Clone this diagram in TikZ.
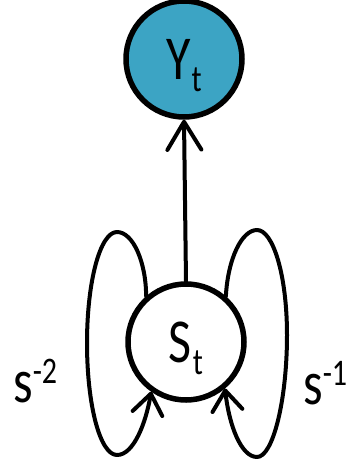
\documentclass[tikz,border=0pt]{standalone}
\usepackage{fontspec}
\setmainfont{Carlito}
\usetikzlibrary{arrows.meta}
\definecolor{ynode}{RGB}{60,164,196}
\newcommand{\bigtxt}[2]{\scalebox{1}[1.25]{\fontsize{50}{60}\selectfont #1\hspace{1pt}\raisebox{-9.6pt}[0pt][0pt]{\fontsize{30}{36}\selectfont #2}}}
\newcommand{\suptxt}[2]{\scalebox{1}[1.25]{\fontsize{50}{60}\selectfont #1\raisebox{15pt}{\fontsize{30}{36}\selectfont #2}}}
\tikzset{
  var/.style={circle, draw=black, line width=5.5pt, inner sep=0pt, minimum size=116pt},
  conn/.style={line width=4pt, line cap=round, line join=round},
  loopbarb/.style={-{Straight Barb[length=20pt,width=30pt,line cap=round,line join=round]}},
  topbarb/.style={-{Straight Barb[length=28pt,width=34pt,line cap=round,line join=round]}},
  lbl/.style={inner sep=0pt, anchor=base west}
}
\begin{document}
\begin{tikzpicture}[x=1pt,y=-1pt]
\useasboundingbox (0,0) rectangle (360,463);
\node[var, fill=ynode] (Y) at (184,59) {\bigtxt{Y}{t}};
\node[var, fill=white] (S) at (186,342) {\bigtxt{S}{t}};
\draw[conn, topbarb] (S.north) -- (Y.south);
\draw[conn, loopbarb] (S.131) .. controls (146,262) and (133,232) .. (117,232)
  .. controls (100,232) and (87,282) .. (87,343)
  .. controls (87,405) and (100,455) .. (117,455)
  .. controls (134,455) and (146,422) .. (S.235);
\draw[conn, loopbarb] (S.49) .. controls (228,258) and (242,230) .. (257,230)
  .. controls (273,230) and (287,275) .. (287,335)
  .. controls (287,400) and (273,457) .. (257,457)
  .. controls (241,457) and (229,425) .. (S.-50);
\node[lbl] (L2) at (13,402) {\suptxt{s}{-2}};
\node[lbl] (L1) at (303,404) {\suptxt{s}{-1}};
\end{tikzpicture}
\end{document}
